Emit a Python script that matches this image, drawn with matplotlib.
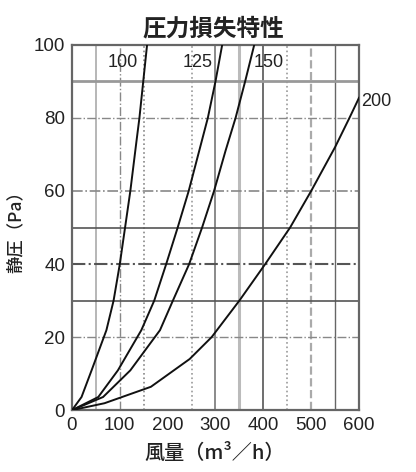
import matplotlib
matplotlib.use("Agg")
import matplotlib.pyplot as plt

plt.rcParams['font.family'] = ['Noto Sans CJK JP', 'DejaVu Sans']

# pressure-loss curves per duct diameter (airflow m3/h, static pressure Pa)
sizes = ["100", "125", "150", "200"]
q100 = [0, 20, 41, 72, 87, 100, 111, 122, 135, 141, 149, 157]
p100 = [0, 3.6, 10.9, 21.9, 30, 40, 50, 60, 73.8, 80, 90, 100]
q125 = [0, 55, 96, 145, 172, 197, 221, 244, 266, 284, 300, 314]
p125 = [0, 3.6, 10.9, 21.9, 30, 40, 50, 60, 71, 80, 90, 100]
q150 = [0, 65, 122, 184, 211, 245, 272, 297, 321, 342, 362, 381]
p150 = [0, 3.6, 10.9, 21.9, 30, 40, 50, 60, 71, 80, 90, 100]
q200 = [0, 68, 165, 246, 292, 350, 404, 456, 500, 550, 580, 600]
p200 = [0, 1.9, 6.4, 14.0, 20, 30, 40, 50, 60, 72, 80, 85.5]

xticks = [0, 100, 200, 300, 400, 500, 600]
yticks = [0, 20, 40, 60, 80, 100]

fig = plt.figure(figsize=(4.16, 4.72), dpi=100)
ax = fig.add_axes([0.173, 0.131, 0.690, 0.774])

# scanned-looking grid, mixed styles
vgrid = [(50, '-', '#aaaaaa', 1.2), (100, '-.', '#888888', 1.0), (150, ':', '#888888', 1.2),
         (250, ':', '#999999', 1.2), (300, '-', '#777777', 1.2), (350, '-', '#bbbbbb', 2.2),
         (400, '-', '#555555', 1.2), (450, ':', '#999999', 1.2), (500, '--', '#aaaaaa', 1.6),
         (550, '-', '#666666', 1.0)]
hgrid = [(90, '-', '#999999', 2.0), (80, '-.', '#888888', 1.0), (60, '-.', '#888888', 1.2),
         (50, '-', '#555555', 1.2), (40, '-.', '#555555', 1.5), (30, '-', '#555555', 1.2),
         (20, '-.', '#888888', 1.0)]
for v, ls, c, lw in vgrid:
    ax.axvline(v, ls=ls, color=c, lw=lw, zorder=1)
for h, ls, c, lw in hgrid:
    ax.axhline(h, ls=ls, color=c, lw=lw, zorder=1)

for q, p in [(q100, p100), (q125, p125), (q150, p150), (q200, p200)]:
    ax.plot(q, p, color='#111111', lw=1.4, zorder=3)

ax.set_xlim(0, 600)
ax.set_ylim(0, 100)
ax.set_xticks(xticks)
ax.set_yticks(yticks)
tick_font = dict(family='Liberation Sans', size=13.5)
ax.set_xticklabels([str(t) for t in xticks], **tick_font)
ax.set_yticklabels([str(t) for t in yticks], **tick_font)
ax.tick_params(length=0, pad=5, colors='#222222')
for s in ax.spines.values():
    s.set_color('#666666')
    s.set_linewidth(1.6)

# curve labels
lab = dict(ha='center', va='center', fontsize=13, family='Liberation Sans', color='#222222')
ax.text(106, 95.3, sizes[0], **lab)
ax.text(262, 95.3, sizes[1], **lab)
ax.text(412, 95.3, sizes[2], **lab)
ax.text(605, 84.5, sizes[3], clip_on=False, **dict(lab, ha='left'))

fig.text(0.512, 0.94, "圧力損失特性", ha='center', va='center', fontsize=17,
         fontweight='bold', color='#222222')
fig.text(0.517, 0.041, "風量（m³／h）", ha='center', va='center', fontsize=14.5,
         fontweight='medium', color='#222222')
fig.text(0.038, 0.517, "静圧（Pa）", ha='center', va='center', rotation=90, fontsize=12.5,
         fontweight='medium', color='#222222')

fig.savefig("out.png", dpi=100)
